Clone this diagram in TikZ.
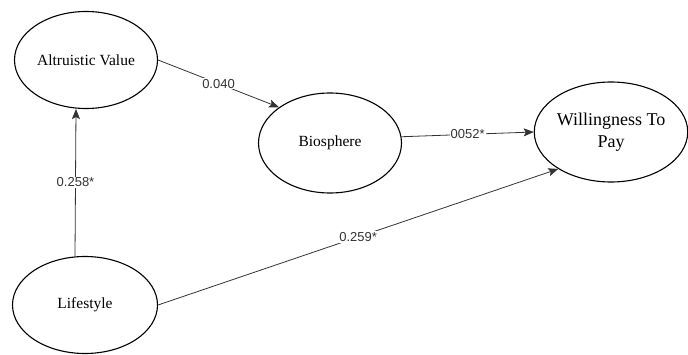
\documentclass[tikz,border=0pt]{standalone}
\usepackage{fontspec}
\setmainfont{Liberation Serif}
\newfontfamily\labelfont{Liberation Sans}
\usetikzlibrary{shapes.geometric,arrows.meta}

\begin{document}
\begin{tikzpicture}[x=1pt,y=1pt,
    latent/.style={draw=black,line width=1.1pt,ellipse,inner sep=0pt,align=center,
        minimum width=143pt,minimum height=97pt},
    path/.style={draw=black!80,line width=0.8pt,-{Stealth[length=10pt,width=8pt,inset=2pt]}},
    coef/.style={fill=white,inner sep=1pt,text=black!80,font=\labelfont\fontsize{13}{13}\selectfont}]
    \useasboundingbox (0,0) rectangle (688,354);
    \node[latent,font=\fontsize{15.5}{18}\selectfont] (alt) at (86,294) {Altruistic Value};
    \node[latent,minimum height=100pt,font=\fontsize{15.5}{18}\selectfont] (bio) at (330,211) {Biosphere};
    \node[latent,minimum height=100pt,font=\fontsize{18}{22}\selectfont] (wtp) at (611,222) {Willingness To\\Pay};
    \node[latent,minimum width=145pt,font=\fontsize{15.5}{18}\selectfont] (life) at (85,49) {Lifestyle};
    \draw[path] ([xshift=-10pt]life.north) -- node[coef] {0.258*} ([xshift=-10pt]alt.south);
    \draw[path] (alt.east) -- node[coef] {0.040} (bio.145);
    \draw[path] (bio.5) -- node[coef] {0052*} (wtp.west);
    \draw[path] (life.east) -- node[coef] {0.259*} (wtp.215);
\end{tikzpicture}
\end{document}
